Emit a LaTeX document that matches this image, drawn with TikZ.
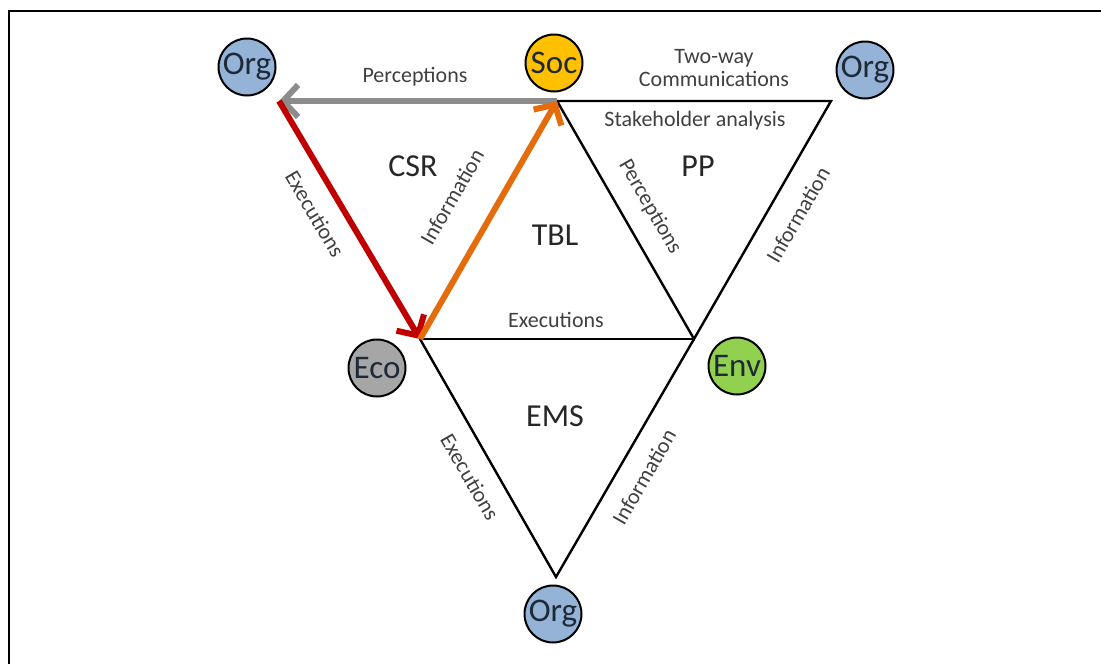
\documentclass[tikz,border=0pt]{standalone}
\usepackage{fontspec}
\setmainfont{Carlito}
\usetikzlibrary{arrows.meta}

\definecolor{orgblue}{HTML}{95B3D7}
\definecolor{socgold}{HTML}{FFC000}
\definecolor{ecogrey}{HTML}{A6A6A6}
\definecolor{envgreen}{HTML}{92D050}
\definecolor{arrgrey}{HTML}{8C8C8C}
\definecolor{arrred}{HTML}{C00000}
\definecolor{arrorange}{HTML}{E46C0A}
\definecolor{labtext}{HTML}{404040}
\definecolor{disctext}{HTML}{1E2A38}

\tikzset{
  disc/.style={circle, draw=black, line width=2pt, minimum size=57pt, inner sep=0pt,
    text=disctext, font=\fontsize{33}{36}\selectfont},
  edgelabel/.style={inner sep=0pt, text=labtext, font=\fontsize{22}{24}\selectfont},
  biglabel/.style={inner sep=0pt, text=black!85, font=\fontsize{32}{34}\selectfont},
  side/.style={draw=black, line width=2.4pt, line join=miter},
  flow/.style={line width=6pt, -{Straight Barb[length=15pt,width=32pt]}},
}

\begin{document}
\begin{tikzpicture}[x=1pt, y=-1pt]
  \useasboundingbox (0,0) rectangle (1101,664);
  \fill[white] (0,0) rectangle (1101,664);

  % outer frame, open to the right and bottom
  \draw[line width=2.5pt, line cap=butt] (9,664) -- (9,11) -- (1101,11);

  % triangle corners
  \coordinate (A) at (279,101);
  \coordinate (B) at (557,101);
  \coordinate (C) at (831,101);
  \coordinate (D) at (420,339);
  \coordinate (E) at (694,339);
  \coordinate (F) at (556,577);

  % black sides
  \draw[side] (B) -- (C) -- (E) -- cycle;
  \draw[side] (D) -- (E);
  \draw[side] (D) -- (F) -- (E);

  % coloured flows of the CSR triangle
  \draw[flow, arrgrey] (B) -- (A);
  \draw[flow, arrred] (A) -- (D);
  \draw[flow, arrorange] (D) -- (B);

  % stakeholder discs
  \node[disc, fill=orgblue] (orgL) at (247,67) {Org};
  \node[disc, fill=socgold] (soc) at (554,63) {Soc};
  \node[disc, fill=orgblue] (orgR) at (865,70) {Org};
  \node[disc, fill=ecogrey] (eco) at (377,368) {Eco};
  \node[disc, fill=envgreen] (env) at (737,366) {Env};
  \node[disc, fill=orgblue] (orgB) at (553,614) {Org};

  % region names
  \node[biglabel] (csr) at (413,166) {CSR};
  \node[biglabel] (pp) at (698,166) {PP};
  \node[biglabel] (tbl) at (555,235) {TBL};
  \node[biglabel] (ems) at (555,416) {EMS};

  % edge labels
  \node[edgelabel] (lperc) at (415,77) {Perceptions};
  \node[edgelabel, align=center] (ltwo) at (714,68) {Two-way\\[-1pt]Communications};
  \node[edgelabel] (lstake) at (695,121) {Stakeholder analysis};
  \node[edgelabel, rotate=-59.5] (lexec1) at (315,214) {Executions};
  \node[edgelabel, rotate=60] (linfo1) at (452,197) {Information};
  \node[edgelabel, rotate=-60] (lperc2) at (650,207) {Perceptions};
  \node[edgelabel, rotate=60] (linfo2) at (798,215) {Information};
  \node[edgelabel] (lexec2) at (556,320) {Executions};
  \node[edgelabel, rotate=-60] (lexec3) at (470,477) {Executions};
  \node[edgelabel, rotate=60] (linfo3) at (644,477) {Information};
\end{tikzpicture}
\end{document}
